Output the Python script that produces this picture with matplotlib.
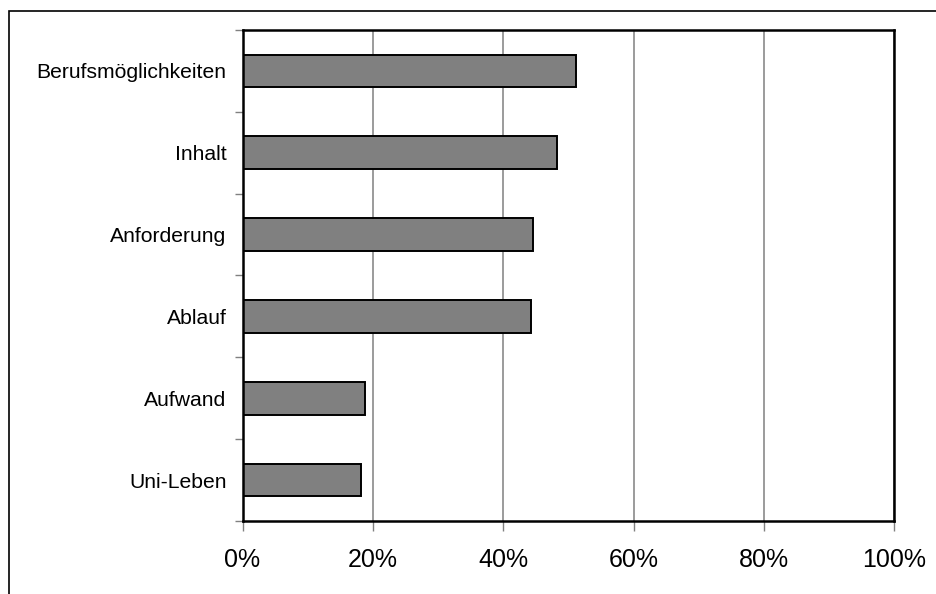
import matplotlib
matplotlib.use("Agg")
import matplotlib.pyplot as plt
from matplotlib.patches import Rectangle
from matplotlib.ticker import FixedLocator, PercentFormatter

plt.rcParams['font.family'] = ['Liberation Sans', 'DejaVu Sans']

categories = ["Berufsmöglichkeiten", "Inhalt", "Anforderung", "Ablauf", "Aufwand", "Uni-Leben"]
shares = [51.2, 48.2, 44.5, 44.2, 18.8, 18.2]
x_ticks = [0, 20, 40, 60, 80, 100]

fig = plt.figure(figsize=(9.36, 5.94), dpi=100)
ax = fig.add_axes([242.5 / 936, 1 - 521 / 594, 652 / 936, 491 / 594])

pos = list(range(len(categories)))
ax.barh(pos, shares, height=0.40, color="#808080", edgecolor="black",
        linewidth=1.4, zorder=3)

ax.set_xlim(0, 100)
ax.set_ylim(len(categories) - 0.5, -0.5)

ax.set_xticks(x_ticks)
ax.xaxis.set_major_formatter(PercentFormatter(decimals=0))
ax.tick_params(axis="x", direction="out", length=7, width=1, color="#808080",
               pad=12.5, labelsize=18)
ax.xaxis.grid(True, color="#808080", linewidth=1.1, zorder=0)

ax.set_yticks(pos)
ax.set_yticklabels(categories)
ax.tick_params(axis="y", which="major", length=0, pad=11.5, labelsize=15.2)
ax.yaxis.set_minor_locator(FixedLocator([i + 0.5 for i in range(-1, len(categories))]))
ax.tick_params(axis="y", which="minor", direction="out", length=6, width=1,
               color="#808080")

for sp in ax.spines.values():
    sp.set_color("black")
    sp.set_linewidth(1.8)
    sp.set_zorder(4)

# outer frame around the chart area
fig.patches.append(Rectangle((8.5 / 936, -0.2), 1.2, 1.2 - 10.5 / 594,
                             transform=fig.transFigure, fill=False,
                             edgecolor="black", linewidth=1.2, clip_on=False))

fig.savefig("out.png", dpi=100, facecolor="white")
